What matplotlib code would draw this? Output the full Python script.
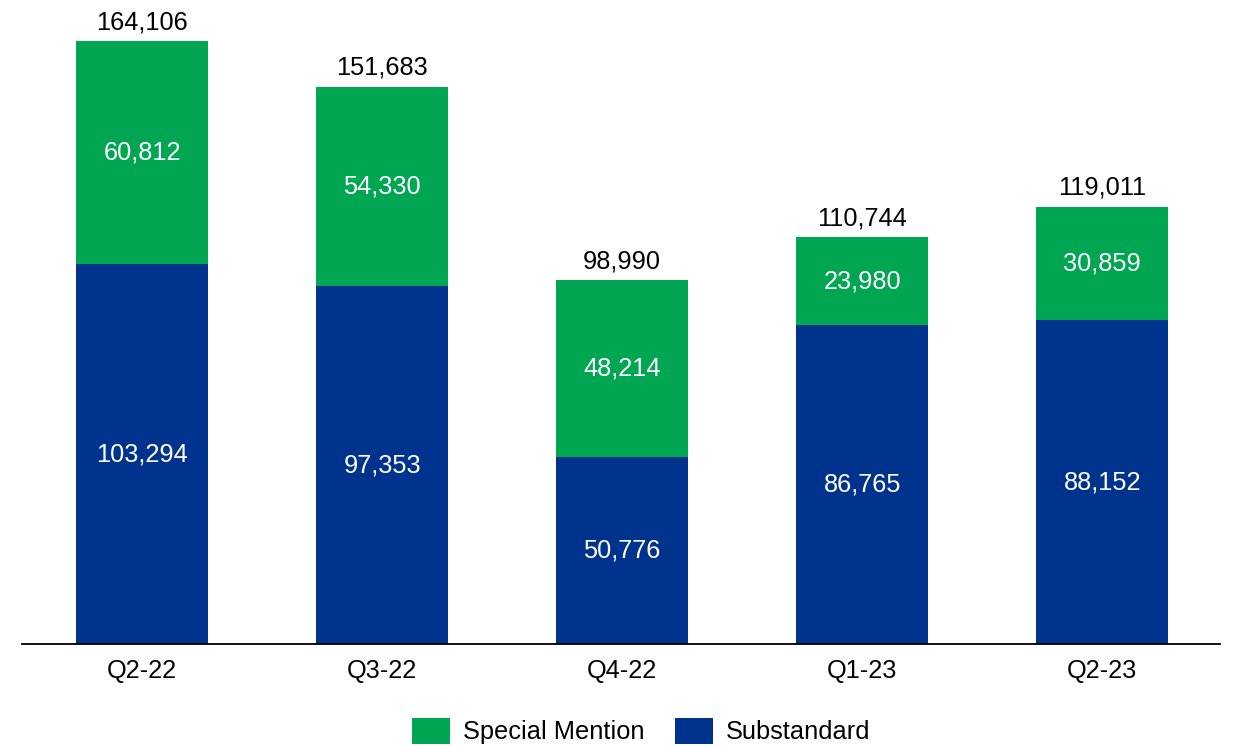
import matplotlib
matplotlib.use("Agg")
import matplotlib.pyplot as plt
from matplotlib.patches import Patch

plt.rcParams['font.family'] = ['Liberation Sans', 'DejaVu Sans']

categories = ["Q2-22", "Q3-22", "Q4-22", "Q1-23", "Q2-23"]
substandard = [103294, 97353, 50776, 86765, 88152]
special_mention = [60812, 54330, 48214, 23980, 30859]
totals = [164106, 151683, 98990, 110744, 119011]

green = "#00A651"
blue = "#00338D"

fig = plt.figure(figsize=(12.33, 7.46), dpi=100)
W, H = 1233, 746
ax = fig.add_axes([22 / W, (746 - 644) / H, (1220 - 22) / W, (644 - 10) / H])

x = list(range(len(categories)))
width = 0.55
ax.bar(x, substandard, width=width, color=blue, zorder=2)
ax.bar(x, special_mention, width=width, bottom=substandard, color=green, zorder=2)

ymax = totals[0] * (634 / 603)
ax.set_xlim(-0.5, 4.49)
ax.set_ylim(0, ymax)

fs = 18.3
for i in x:
    ax.text(i, substandard[i] / 2, f"{substandard[i]:,}", ha="center", va="center",
            color="white", fontsize=fs)
    ax.text(i, substandard[i] + special_mention[i] / 2, f"{special_mention[i]:,}",
            ha="center", va="center", color="white", fontsize=fs)
    ax.text(i, totals[i] + ymax * 0.011, f"{totals[i]:,}", ha="center", va="bottom",
            color="black", fontsize=fs)

for s in ["top", "right", "left"]:
    ax.spines[s].set_visible(False)
ax.spines["bottom"].set_linewidth(1.3)
ax.set_yticks([])
ax.set_xticks(x)
ax.set_xticklabels(categories, fontsize=fs)
ax.tick_params(axis="x", length=0, pad=11)

handles = [Patch(facecolor=green, label="Special Mention"),
           Patch(facecolor=blue, label="Substandard")]
fig.legend(handles=handles, loc="center", bbox_to_anchor=(641 / W, 1 - 731 / H),
           ncol=2, frameon=False, fontsize=fs, handlelength=1.5, handleheight=1.2,
           handletextpad=0.5, columnspacing=1.2)

fig.savefig("out.png", dpi=100)
